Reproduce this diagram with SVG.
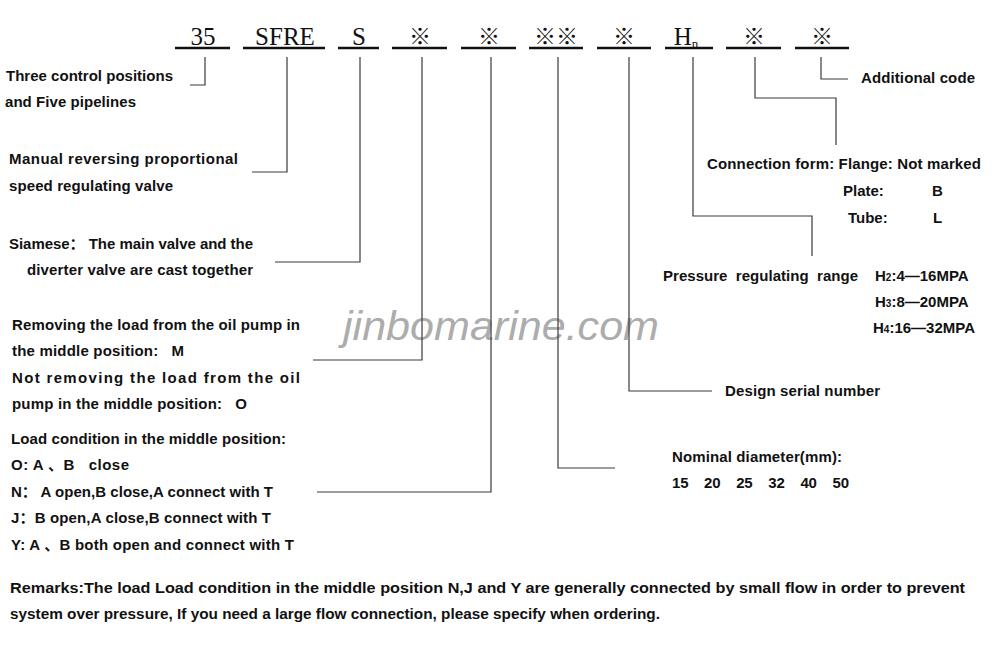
<svg xmlns="http://www.w3.org/2000/svg" width="1000" height="648" viewBox="0 0 1000 648">
<style>
.code{font-family:"Liberation Serif",serif;font-size:25px;fill:#111;text-anchor:middle}
.mark{font-family:"Noto Sans CJK SC","Liberation Sans",sans-serif;font-size:22px;fill:#111;text-anchor:middle}
.ul{stroke:#111;stroke-width:2.6;fill:none}
.cn{stroke:#3a3a3a;stroke-width:1.2;fill:none}
.t{font-family:"Liberation Sans","Noto Sans CJK SC",sans-serif;font-size:15px;font-weight:bold;fill:#111}
.r{font-family:"Liberation Sans",sans-serif;font-size:15px;font-weight:bold;fill:#111}
.wm{font-family:"Liberation Sans",sans-serif;font-size:40px;font-style:italic;fill:#8a8a8a;opacity:0.7}
</style>
<rect width="1000" height="648" fill="#fff"/>
<g id="watermark"><text class="wm" x="343" y="340" textLength="316" lengthAdjust="spacingAndGlyphs">jinbomarine.com</text></g>
<g id="code-row">
<line class="ul" x1="175" y1="48" x2="230" y2="48"/><text class="code" x="203" y="45">35</text>
<line class="ul" x1="243" y1="48" x2="325" y2="48"/><text class="code" x="285" y="45">SFRE</text>
<line class="ul" x1="338" y1="48" x2="379" y2="48"/><text class="code" x="359" y="45">S</text>
<line class="ul" x1="392" y1="48" x2="447" y2="48"/><text class="mark" x="420" y="44">※</text>
<line class="ul" x1="461" y1="48" x2="516" y2="48"/><text class="mark" x="489" y="44">※</text>
<line class="ul" x1="529" y1="48" x2="583" y2="48"/><text class="mark" x="556" y="44">※※</text>
<line class="ul" x1="597" y1="48" x2="651" y2="48"/><text class="mark" x="624" y="44">※</text>
<line class="ul" x1="665" y1="48" x2="713" y2="48"/><text class="code" x="686" y="45">H<tspan font-size="13" dy="3">n</tspan></text>
<line class="ul" x1="726" y1="48" x2="781" y2="48"/><text class="mark" x="754" y="44">※</text>
<line class="ul" x1="795" y1="48" x2="849" y2="48"/><text class="mark" x="822" y="44">※</text>
</g>
<g id="connectors">
<polyline class="cn" points="205,57 205,85 190,85"/>
<polyline class="cn" points="287,57 287,172 252,172"/>
<polyline class="cn" points="360,57 360,262 275,262"/>
<polyline class="cn" points="422,57 422,360 313,360"/>
<polyline class="cn" points="491,57 491,492 317,492"/>
<polyline class="cn" points="558,57 558,468 615,468"/>
<polyline class="cn" points="629,57 629,391 712,391"/>
<polyline class="cn" points="693,57 693,216 812,216 812,256"/>
<polyline class="cn" points="755,57 755,98 836,98 836,145"/>
<polyline class="cn" points="821,57 821,79 848,79"/>
</g>
<g id="n-35">
<text class="t" x="6" y="81" textLength="167">Three control positions</text>
<text class="t" x="5" y="107" textLength="131">and Five pipelines</text>
</g>
<g id="n-sfre">
<text class="t" x="9" y="164" textLength="229">Manual  reversing  proportional</text>
<text class="t" x="9" y="191" textLength="164">speed regulating valve</text>
</g>
<g id="n-s">
<text class="t" x="9" y="249" textLength="244">Siamese： The main valve and the</text>
<text class="t" x="27" y="275" textLength="226">diverter valve are cast together</text>
</g>
<g id="n-m">
<text class="t" x="12" y="330" textLength="288">Removing the load from the oil pump in</text>
<text class="t" x="12" y="356" xml:space="preserve" textLength="172">the middle position:   M</text>
<text class="t" x="12" y="383" textLength="288">Not removing the load from the oil</text>
<text class="t" x="12" y="409" xml:space="preserve" textLength="235">pump in the middle position:   O</text>
</g>
<g id="n-load">
<text class="t" x="11" y="444" textLength="275">Load condition in the middle position:</text>
<text class="t" x="11" y="470" xml:space="preserve" textLength="118">O: A 、B   close</text>
<text class="t" x="11" y="497" textLength="262">N： A open,B close,A connect with T</text>
<text class="t" x="11" y="523" textLength="260">J：B open,A close,B connect with T</text>
<text class="t" x="11" y="550" textLength="283">Y: A 、B both open and connect with T</text>
</g>
<g id="n-diameter">
<text class="t" x="672" y="462" textLength="170">Nominal diameter(mm):</text>
<text class="t" x="672" y="488" xml:space="preserve" textLength="177">15    20    25    32    40    50</text>
</g>
<g id="n-design">
<text class="t" x="725" y="396" textLength="155">Design serial number</text>
</g>
<g id="n-pressure">
<text class="t" x="663" y="281" xml:space="preserve" textLength="195">Pressure  regulating  range</text>
<text class="t" x="875" y="281">H<tspan font-size="10">2</tspan>:4—16MPA</text>
<text class="t" x="875" y="307">H<tspan font-size="10">3</tspan>:8—20MPA</text>
<text class="t" x="873" y="333">H<tspan font-size="10">4</tspan>:16—32MPA</text>
</g>
<g id="n-connection">
<text class="t" x="707" y="169" textLength="274">Connection form: Flange: Not marked</text>
<text class="t" x="843" y="196">Plate:</text><text class="t" x="932" y="196">B</text>
<text class="t" x="848" y="223">Tube:</text><text class="t" x="933" y="223">L</text>
</g>
<g id="n-additional">
<text class="t" x="861" y="83" textLength="114">Additional code</text>
</g>
<g id="remarks">
<text class="r" x="10" y="593" textLength="955" lengthAdjust="spacingAndGlyphs">Remarks:The load Load condition in the middle position N,J and Y are generally connected by small flow in order to prevent</text>
<text class="r" x="10" y="619" textLength="650" lengthAdjust="spacingAndGlyphs">system over pressure, If you need a large flow connection, please specify when ordering.</text>
</g>
</svg>
